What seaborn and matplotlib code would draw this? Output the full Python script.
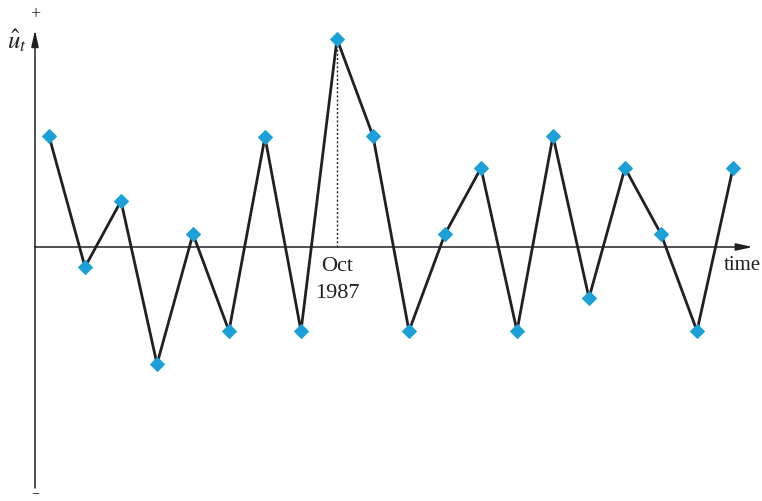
import numpy as np
import pandas as pd
import matplotlib
matplotlib.use("Agg")
import matplotlib.pyplot as plt
import seaborn as sns

# residual values (arbitrary units), one per period
periods = list(range(20))
residuals = [1.11, -0.20, 0.46, -1.17, 0.13, -0.84, 1.10, -0.84, 2.08, 1.11,
             -0.84, 0.13, 0.79, -0.84, 1.11, -0.51, 0.79, 0.13, -0.84, 0.79]
crash_period = 8
crash_label = "Oct\n1987"

sns.set_style("white")
plt.rcParams['font.family'] = ['Liberation Serif', 'DejaVu Serif']
plt.rcParams['mathtext.fontset'] = 'stix'

df = pd.DataFrame({"t": periods, "u": residuals})

fig = plt.figure(figsize=(7.62, 5.02), dpi=100)
ax = fig.add_axes([0, 0, 1, 1])
ax.set_xlim(-1.361, 19.806)
ax.set_ylim(-2.54, 2.48)
ax.axis("off")

line_col = "#231f20"
x_axis = -0.389

# axes with arrows
ax.annotate("", xy=(x_axis, 2.17), xytext=(x_axis, -2.41),
            arrowprops=dict(arrowstyle="-|>,head_length=1.0,head_width=0.22",
                            color=line_col, lw=1.1, shrinkA=0, shrinkB=0))
ax.annotate("", xy=(19.55, 0), xytext=(x_axis, 0),
            arrowprops=dict(arrowstyle="-|>,head_length=1.0,head_width=0.22",
                            color=line_col, lw=1.1, shrinkA=0, shrinkB=0))

# dotted drop line at the crash
ax.plot([crash_period, crash_period], [0, residuals[crash_period]],
        ls=(0, (1.5, 1.5)), color=line_col, lw=1.0)

sns.lineplot(data=df, x="t", y="u", ax=ax, color=line_col, lw=2.0,
             marker="D", markersize=7.5, markerfacecolor="#1ba1d8",
             markeredgecolor="#1ba1d8", zorder=3)

ax.text(crash_period, -0.09, crash_label, ha="center", va="top",
        fontsize=16, linespacing=1.55, color=line_col)
ax.text(18.74, -0.08, "time", ha="left", va="top", fontsize=15, color=line_col)
ax.text(-0.9, 2.07, r"$\hat{u}_t$", ha="center", va="center", fontsize=18,
        color=line_col)
ax.text(x_axis, 2.33, "+", ha="center", va="center", fontsize=13, color=line_col)
ax.text(x_axis, -2.525, "\u2212", ha="center", va="bottom", fontsize=10,
        color=line_col)

fig.savefig("out.png", dpi=100)
